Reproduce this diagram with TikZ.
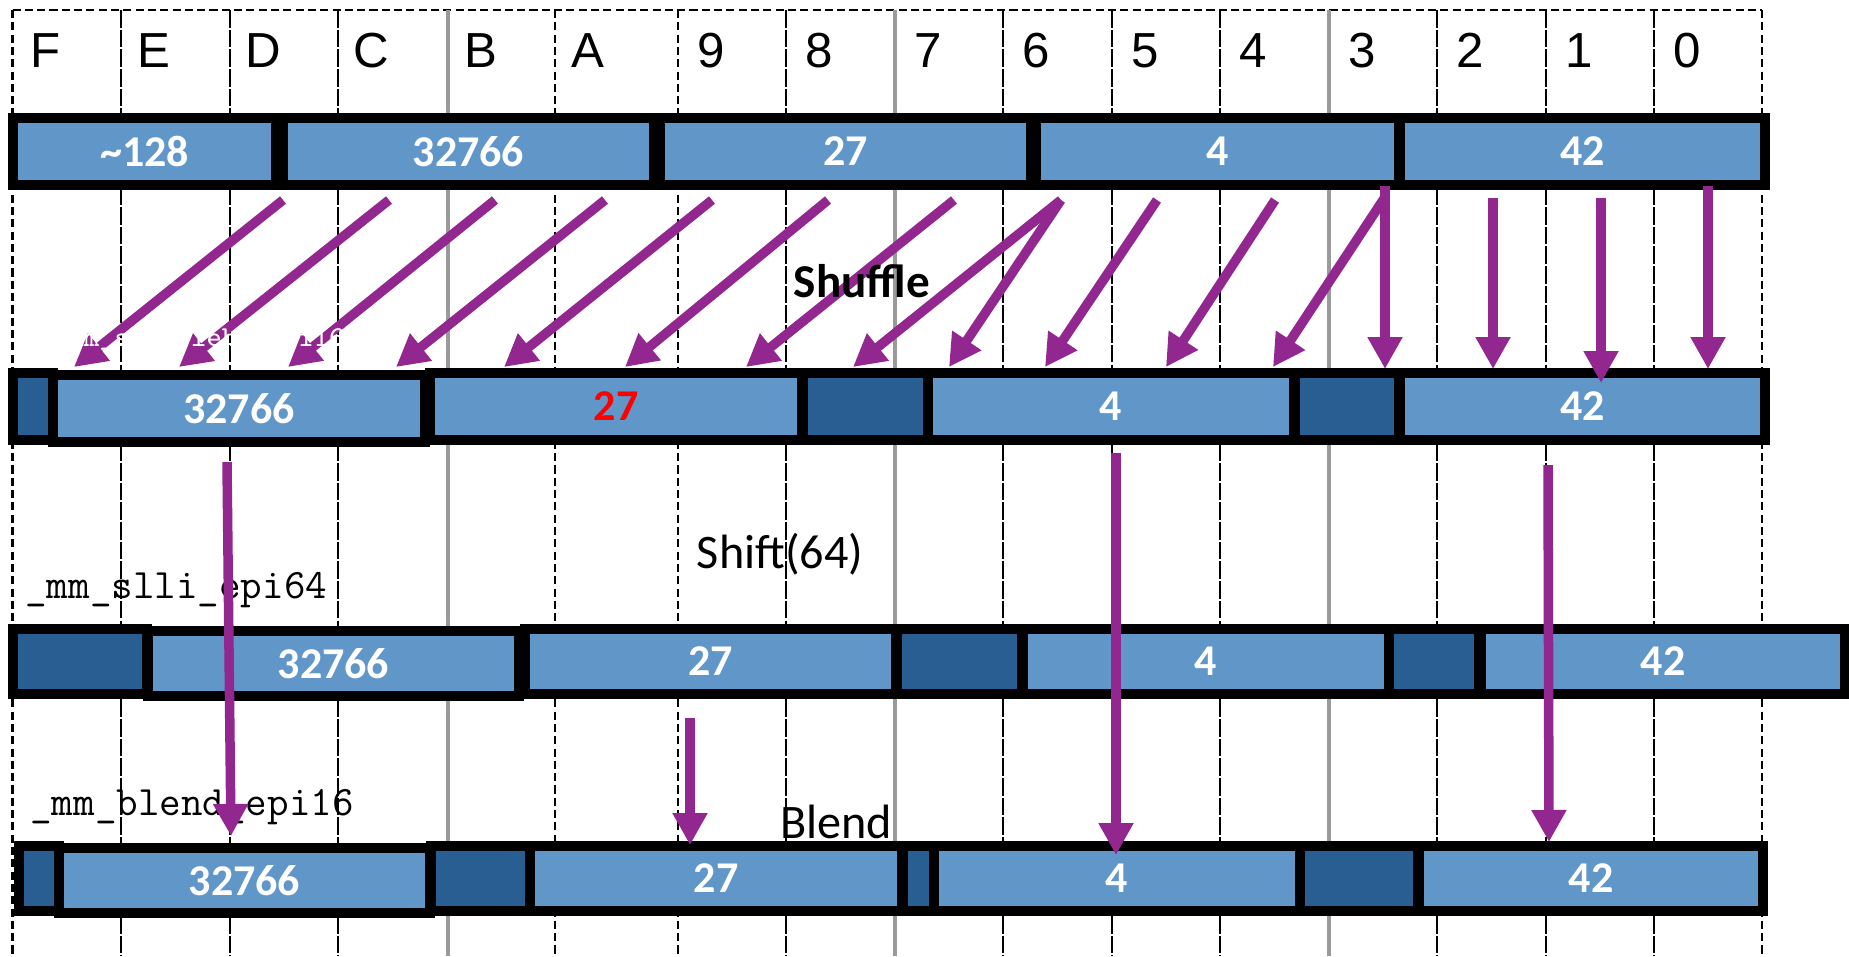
\documentclass[tikz,border=0pt]{standalone}
\usepackage{fontspec}
\usetikzlibrary{arrows.meta}
\newfontfamily\calfont{Carlito}
\newfontfamily\arialfont{Liberation Sans}
\definecolor{lanelight}{HTML}{6196C9}
\definecolor{lanedark}{HTML}{285E91}
\definecolor{shufpurple}{HTML}{92278F}
\definecolor{gridgray}{HTML}{9A9A9A}
% one register lane: name, x1, x2, y1, y2 (inner blue area), style, value
\newcommand{\lanebox}[7]{%
  \node[#6,minimum width={(#3-#2+10)*0.01cm},minimum height={(#5-#4+10)*0.01cm}]
    (#1) at ({(#2+#3)/2},{(#4+#5)/2}) {#7};}

\begin{document}
\begin{tikzpicture}[x=0.01cm,y=-0.01cm,
lane/.style={draw=black,line width=1mm,inner sep=0pt,text=white,
  font=\calfont\bfseries\fontsize{12.5}{14}\selectfont},
light/.style={lane,fill=lanelight},
dark/.style={lane,fill=lanedark},
arr/.style={draw=shufpurple,line width=0.95mm,-{Triangle[length=3.2mm,width=3.3mm]}},
gridsolid/.style={line width=0.25mm,dash pattern=on 5pt off 0.6pt},
griddash/.style={line width=0.22mm,dash pattern=on 2.3pt off 1.2pt},
gridgr/.style={draw=gridgray,line width=0.4mm},
collabel/.style={font=\arialfont\fontsize{14}{16}\selectfont,anchor=base},
opname/.style={font=\ttfamily\fontsize{11.9}{13}\selectfont,anchor=base west},
steplabel/.style={font=\calfont\fontsize{13.7}{15}\selectfont,anchor=base}]
\useasboundingbox (0,0) rectangle (1849,956);
% lane grid
\draw[griddash] (12.5,10) -- (1762,10);
\foreach \gx/\gs in {12.5/griddash,121/gridsolid,230/gridsolid,338/gridsolid,
  448/gridgr,555/griddash,678/griddash,786/gridsolid,895/gridgr,1003/gridsolid,
  1112/gridsolid,1220/gridsolid,1329/gridgr,1437/gridsolid,1546/gridsolid,
  1654/gridsolid,1762/griddash}
  \draw[\gs] (\gx,10) -- (\gx,956);
\foreach \gx/\lab [count=\i] in {12.5/F,121/E,230/D,338/C,448/B,555/A,678/9,786/8,
  895/7,1003/6,1112/5,1220/4,1329/3,1437/2,1546/1,1654/0}
  \node[collabel] (col\i) at (\gx+33,67) {\lab};
% source register
\lanebox{r1a}{18}{271}{123}{180}{light}{\textasciitilde128}
\lanebox{r1b}{288}{649}{123}{180}{light}{32766}
\lanebox{r1c}{665}{1026}{123}{180}{light}{27}
\lanebox{r1d}{1041}{1394}{123}{180}{light}{4}
\lanebox{r1e}{1405}{1760}{123}{180}{light}{42}
% after shuffle
\lanebox{r2z}{18}{48}{378}{435}{dark}{}
\lanebox{r2c}{435}{797}{378}{435}{light,text=red}{27}
\lanebox{r2y}{808}{923}{378}{435}{dark}{}
\lanebox{r2d}{933}{1289}{378}{435}{light}{4}
\lanebox{r2x}{1300}{1394}{378}{435}{dark}{}
\lanebox{r2e}{1405}{1760}{378}{435}{light}{42}
\lanebox{r2b}{58}{420}{380}{437}{light}{32766}
% after shift
\lanebox{r3z}{18}{142}{634}{689}{dark}{}
\lanebox{r3c}{530}{891}{634}{689}{light}{27}
\lanebox{r3y}{902}{1017}{634}{689}{dark}{}
\lanebox{r3d}{1028}{1384}{634}{689}{light}{4}
\lanebox{r3x}{1394}{1474}{634}{689}{dark}{}
\lanebox{r3e}{1486}{1840}{634}{689}{light}{42}
\lanebox{r3b}{153}{514}{636}{691}{light}{32766}
% after blend
\lanebox{r4z}{24}{54}{851}{906}{dark}{}
\lanebox{r4y}{436}{525}{851}{906}{dark}{}
\lanebox{r4c}{535}{897}{851}{906}{light}{27}
\lanebox{r4x}{908}{929}{851}{906}{dark}{}
\lanebox{r4d}{939}{1295}{851}{906}{light}{4}
\lanebox{r4w}{1305}{1413}{851}{906}{dark}{}
\lanebox{r4e}{1424}{1758}{851}{906}{light}{42}
\lanebox{r4b}{64}{425}{853}{908}{light}{32766}
% intrinsic names
\node[opname] (slli) at (13,598) {\_mm\_slli\_epi64};
\node[opname] (blend) at (18,815) {\_mm\_blend\_epi16};
% shuffle moves
\foreach \sx/\sy/\tx/\ty [count=\i] in {283/200/74/367,389/200/179/367,
  495/200/288/367,605/200/396/367,712/200/504/367,828/200/625/367,
  954/200/746/367,1061/200/853/367,1061/200/949/367,1157/200/1045/367,
  1275/200/1166/367,1385/197/1273/367,1385/186/1385/369,1493/198/1493/369,
  1601/198/1601/383,1708/186/1708/369}
  {\coordinate (shs\i) at (\sx,\sy);
   \coordinate (sht\i) at (\tx,\ty);
   \draw[arr] (shs\i) -- (sht\i);}
% blend moves
\foreach \sx/\sy/\tx/\ty [count=\i] in {227/462/231/836,690/718/690/845,
  1116/453/1116/855,1548/465/1549/842}
  {\coordinate (bls\i) at (\sx,\sy);
   \coordinate (blt\i) at (\tx,\ty);
   \draw[arr] (bls\i) -- (blt\i);}
\node[opname,text=white,font=\ttfamily\fontsize{8.2}{10}\selectfont]
  (shufop) at (41,346) {\_mm\_shufflehi\_epi16};
\node[steplabel,font=\calfont\bfseries\fontsize{13.4}{15}\selectfont] (shuf) at (862,297) {Shuffle};
\node[steplabel] (shift) at (780,568) {Shift(64)};
\node[steplabel] (blnd) at (836,838) {Blend};
\end{tikzpicture}
\end{document}
